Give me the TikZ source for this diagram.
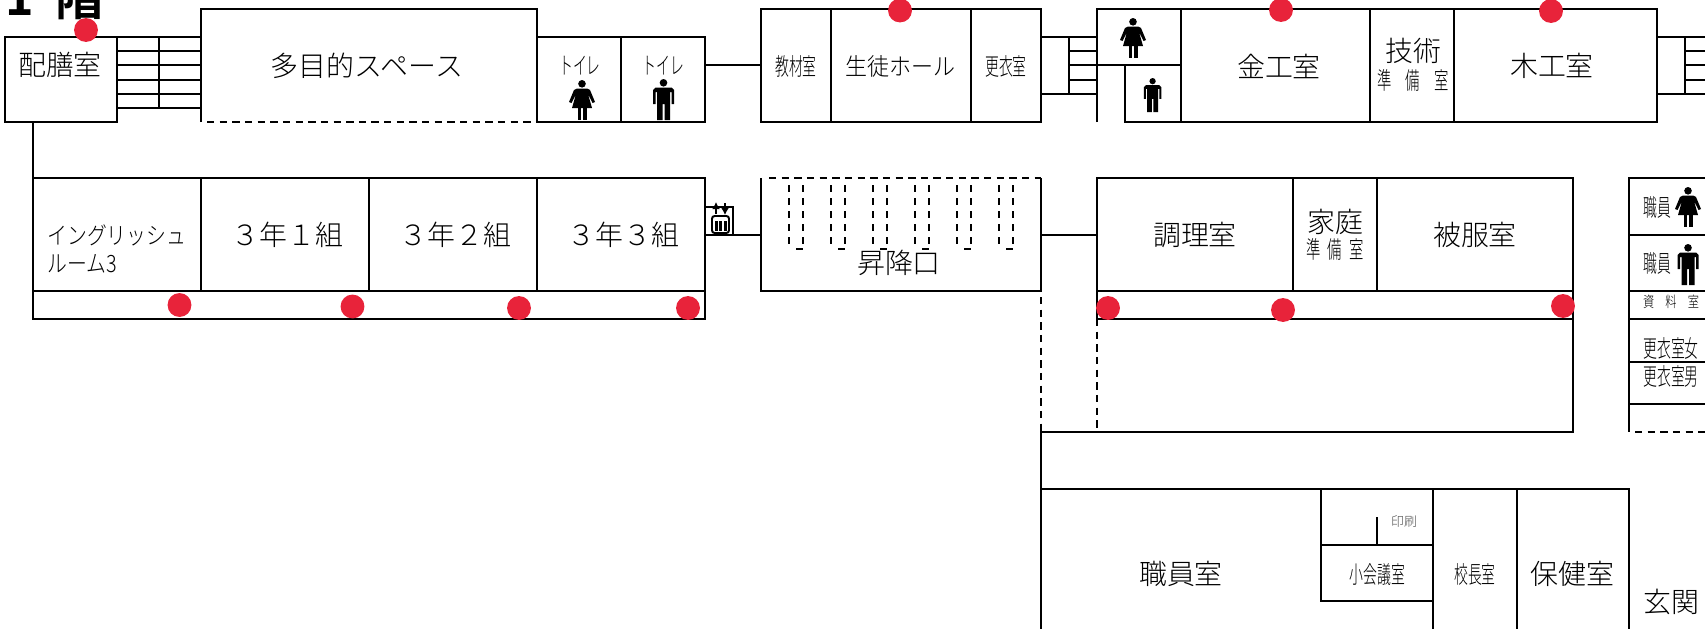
\documentclass[tikz,border=0pt]{standalone}
\usepackage{fontspec}
\usepackage{xcolor}
\usepackage{tikz}
\usetikzlibrary{positioning,arrows.meta}
\newfontfamily\jpfont{Noto Sans CJK JP Light}
\newfontfamily\jphead{Noto Sans CJK JP Bold}
\definecolor{dotred}{HTML}{E8233A}
\newcommand{\slim}[1]{\scalebox{.58}[1]{#1}}
\newcommand{\prep}[1]{\scalebox{.6}[1]{準\hspace{#1}備\hspace{#1}室}}

\tikzset{
  pics/woman/.style={code={
    \fill (0,3.8) circle (3.8);
    \fill (-5,8.5) -- (5,8.5) -- (8,10) -- (13,22) -- (10.5,23) -- (6,14) -- (10,28) -- (-10,28) -- (-6,14) -- (-10.5,23) -- (-13,22) -- (-8,10) -- cycle;
    \fill (-4.5,27) rectangle (-1,40);
    \fill (1,27) rectangle (4.5,40);
  }},
  pics/man/.style={code={
    \fill (0,3.8) circle (3.8);
    \fill (-8,8.5) -- (8,8.5) -- (10.5,11) -- (10.5,25) -- (8,25) -- (8,13) -- (6.5,13) -- (6.5,41) -- (1,41) -- (1,25) -- (-1,25) -- (-1,41) -- (-6.5,41) -- (-6.5,13) -- (-8,13) -- (-8,25) -- (-10.5,25) -- (-10.5,11) -- cycle;
  }}
}

\begin{document}
\begin{tikzpicture}[
  x=0.02cm,
  y=-0.02cm,
  wall/.style={line width=1.1pt, black},
  dashwall/.style={line width=1.1pt, black, dash pattern=on 4.2pt off 3pt},
  rowdash/.style={line width=1.1pt, black, dash pattern=on 3.7pt off 3.7pt},
  room/.style={inner sep=0pt, font=\jpfont\fontsize{15.9}{15.9}\selectfont},
  slimroom/.style={inner sep=0pt, font=\jpfont\fontsize{13.6}{13.6}\selectfont},
  reddot/.style={circle, fill=dotred, inner sep=0pt, minimum size=13.6pt}
]
\clip (0,0) rectangle (1705,629);

% Top row of rooms
\draw[wall] (5,37) rectangle (117,122);
\draw[wall] (201,122) -- (201,9) -- (537,9) -- (537,122);
\draw[dashwall] (207,122) -- (537,122);
\draw[wall] (537,37) rectangle (621,122);
\draw[wall] (621,37) rectangle (705,122);
\draw[wall] (705,65) -- (761,65);
\draw[wall] (761,9) rectangle (831,122);
\draw[wall] (831,9) rectangle (971,122);
\draw[wall] (971,9) rectangle (1041,122);

% Stairs
\foreach \y in {37,51,65,80,94,108} \draw[wall] (117,\y) -- (201,\y);
\draw[wall] (159,37) -- (159,108);
\draw[wall] (1041,37) -- (1097,37);
\draw[wall] (1041,94) -- (1097,94);
\foreach \y in {51,65,80} \draw[wall] (1069,\y) -- (1097,\y);
\draw[wall] (1069,37) -- (1069,94);
\draw[wall] (1657,37) -- (1705,37);
\draw[wall] (1657,94) -- (1705,94);
\foreach \y in {51,65,80} \draw[wall] (1685,\y) -- (1705,\y);
\draw[wall] (1685,37) -- (1685,94);

% Workshop block
\draw[wall] (1097,122) -- (1097,9) -- (1657,9) -- (1657,122) -- (1125,122) -- (1125,65);
\draw[wall] (1097,65) -- (1181,65);
\foreach \x in {1181,1370,1454} \draw[wall] (\x,9) -- (\x,122);

% Classroom row
\draw[wall] (33,122) -- (33,319) -- (705,319) -- (705,178) -- (33,178);
\draw[wall] (33,291) -- (705,291);
\foreach \x in {201,369,537} \draw[wall] (\x,178) -- (\x,291);

% Lift
\draw[wall] (705,207) -- (733,207) -- (733,235);
\draw[wall] (705,235) -- (761,235);
\draw[wall, fill=white, rounded corners=1.5pt] (712,216) rectangle (729,233);
\foreach \x in {716,720.5,725} \fill (\x-1.5,221) rectangle (\x+1.5,231);
\draw[line width=1pt, -{Latex[length=4pt,width=4.5pt]}] (716,214) -- (716,202);
\draw[line width=1pt, -{Latex[length=4pt,width=4.5pt]}] (725,203) -- (725,215);

% Entrance hall with shoe racks
\draw[wall] (761,178) -- (761,291) -- (1041,291) -- (1041,178);
\draw[dashwall] (769,178) -- (1041,178);
\foreach \x in {789,831,873,915,957,999} {
  \draw[rowdash] (\x,185) -- (\x,245);
  \draw[rowdash] (\x+14,185) -- (\x+14,245);
  \draw[wall] (\x+7,249) -- (\x+14,249);
}
\draw[wall] (1041,235) -- (1097,235);

% Cooking rooms
\draw[wall] (1097,178) rectangle (1573,319);
\draw[wall] (1097,291) -- (1573,291);
\foreach \x in {1293,1377} \draw[wall] (\x,178) -- (\x,291);
\draw[wall] (1573,319) -- (1573,432) -- (1041,432) -- (1041,629);
\draw[dashwall] (1041,297) -- (1041,432);
\draw[dashwall] (1097,319) -- (1097,432);

% Staff rooms on the right
\draw[wall] (1705,178) -- (1629,178) -- (1629,432);
\foreach \y in {235,291,319,362,404} \draw[wall] (1629,\y) -- (1705,\y);
\draw[dashwall] (1635,432) -- (1705,432);

% Office block
\draw[wall] (1041,489) -- (1629,489) -- (1629,629);
\draw[wall] (1321,489) -- (1321,601) -- (1433,601);
\draw[wall] (1321,545) -- (1433,545);
\draw[wall] (1377,517) -- (1377,545);
\draw[wall] (1433,489) -- (1433,629);
\draw[wall] (1517,489) -- (1517,629);

% Toilet signs
\pic at (582,80) {woman};
\pic at (663.5,79) {man};
\pic at (1133,18) {woman};
\pic[scale=.83] at (1152.6,78) {man};
\pic at (1688,187) {woman};
\pic at (1688,244) {man};

% Room labels
\node[inner sep=0pt, font=\jphead\fontsize{27.5}{27.5}\selectfont, anchor=west] (title) at (5,-3) {1\hspace{.45em}階};
\node[room] (haizen) at (60,65) {配膳室};
\node[room] (tamokuteki) at (367,66) {多目的スペース};
\node[slimroom] (toilet1) at (580,66) {\slim{トイレ}};
\node[slimroom] (toilet2) at (663.5,66) {\slim{トイレ}};
\node[slimroom] (kyozai) at (796,66) {\slim{教材室}};
\node[slimroom] (seito) at (900.5,66) {\scalebox{.92}[1]{生徒ホール}};
\node[slimroom] (koui1) at (1006,66) {\slim{更衣室}};
\node[room] (kinko) at (1279,66) {金工室};
\node[room] (gijutsu) at (1413,51) {技術};
\node[slimroom] (gijutsujun) at (1413,80) {\prep{1em}};
\node[room] (mokko) at (1552,66) {木工室};

\node[slimroom, anchor=west, align=left] (english) at (47,249) {\scalebox{.83}[1]{イングリッシュ}\\[2.5pt]\scalebox{.83}[1]{ルーム3}};
\node[room] (nen1) at (287.5,235) {３年１組};
\node[room] (nen2) at (455.5,235) {３年２組};
\node[room] (nen3) at (623.5,235) {３年３組};
\node[room] (shoko) at (899,263) {昇降口};
\node[room] (chori) at (1195,235) {調理室};
\node[room] (katei) at (1335,222) {家庭};
\node[slimroom] (kateijun) at (1335,249) {\prep{.5em}};
\node[room] (hifuku) at (1475,235) {被服室};
\node[slimroom] (shokuin1) at (1657,207) {\slim{職員}};
\node[slimroom] (shokuin2) at (1657,263) {\slim{職員}};
\node[inner sep=0pt, font=\jpfont\fontsize{8.5}{8.5}\selectfont] (shiryo) at (1671,302) {\scalebox{.75}[1]{資\hspace{1em}料\hspace{1em}室}};
\node[slimroom] (kouiw) at (1671,348) {\slim{更衣室女}};
\node[slimroom] (kouim) at (1671,376) {\slim{更衣室男}};

\node[room] (shokuin) at (1181,574) {職員室};
\node[inner sep=0pt, text=black!70, font=\jpfont\fontsize{7.4}{7.4}\selectfont] (insatsu) at (1404,522) {印刷};
\node[slimroom] (shokaigi) at (1377.5,574) {\slim{小会議室}};
\node[slimroom] (kocho) at (1475,574) {\slim{校長室}};
\node[room] (hoken) at (1572.5,574) {保健室};
\node[room] (genkan) at (1671.5,602) {玄関};

% Red marks
\node[reddot] (d1) at (86,30) {};
\node[reddot] (d2) at (900,10.5) {};
\node[reddot] (d3) at (1281,10) {};
\node[reddot] (d4) at (1551,11) {};
\node[reddot] (d5) at (179.5,305) {};
\node[reddot] (d6) at (352.5,306.5) {};
\node[reddot] (d7) at (519,308) {};
\node[reddot] (d8) at (688,308) {};
\node[reddot] (d9) at (1108,308) {};
\node[reddot] (d10) at (1283,310) {};
\node[reddot] (d11) at (1563,306) {};

\end{tikzpicture}
\end{document}
